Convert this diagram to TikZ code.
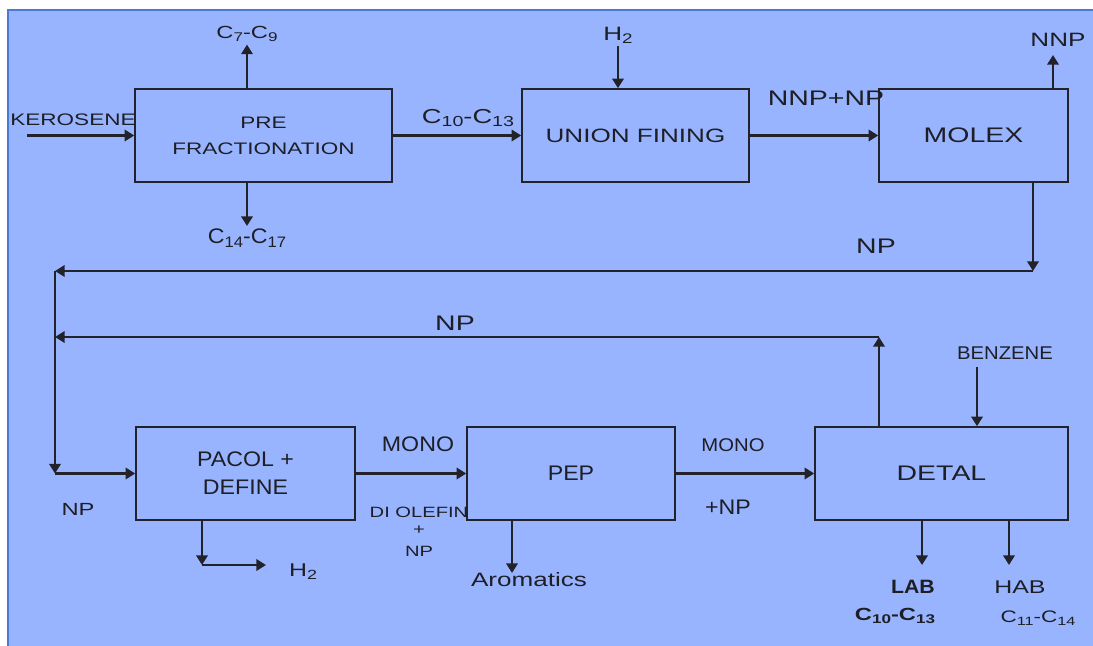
\documentclass[tikz,border=0pt]{standalone}
\usepackage{fontspec}
\setmainfont[FakeStretch=1.1]{Liberation Sans}
\newfontfamily\widefont[FakeStretch=1.35]{Liberation Sans}
\usepackage{graphicx}
\usepackage{tikz}
\usetikzlibrary{arrows.meta,calc}
\definecolor{panelfill}{RGB}{153,180,255}
\definecolor{paneledge}{RGB}{74,122,214}
\definecolor{inkc}{RGB}{30,30,38}
\definecolor{linec}{RGB}{34,34,42}
\newcommand{\sbs}[1]{\raisebox{-0.3ex}{\scalebox{0.72}{#1}}}
\newcommand{\fsz}[2]{\fontsize{#1}{#2}\selectfont}

\begin{document}
\begin{tikzpicture}[
  x=0.02cm, y=-0.02cm,
  unit/.style={draw=linec, line width=0.9pt, inner sep=0pt, align=center, text=inkc, minimum height=1.86cm},
  lbl/.style={inner sep=1.5pt, align=center, text=inkc},
  wlbl/.style={lbl, font=\widefont},
  flow/.style={draw=linec, line width=1.3pt, -{Triangle[length=5.5pt,width=6.5pt]}},
]
\useasboundingbox (0,0) rectangle (1093,646);

% ---- panel ----
\fill[white] (0,0) rectangle (1093,646);
\fill[panelfill] (8,10) rectangle (1093,646);
\draw[paneledge, line width=0.9pt] (8,646) -- (8,10) -- (1093,10);

% ---- process units ----
\node[unit, minimum width=5.14cm, font=\widefont\fsz{9.5}{14.7}] (pre) at (263.5,135.5) {PRE\\FRACTIONATION};
\node[unit, minimum width=4.54cm, font=\widefont\fsz{11}{13}] (union) at (635.5,135.5) {UNION FINING};
\node[unit, minimum width=3.78cm, font=\widefont\fsz{12}{14}] (molex) at (973.5,135.5) {MOLEX};
\node[unit, minimum width=4.38cm, font=\fsz{12}{15.9}] (pacol) at (245.5,473.5) {PACOL +\\DEFINE};
\node[unit, minimum width=4.16cm, font=\fsz{12}{14}] (pep) at (571,473.5) {PEP};
\node[unit, minimum width=5.06cm, font=\widefont\fsz{12}{14}] (detal) at (941.5,473.5) {DETAL};

% ---- stream labels ----
\node[wlbl, font=\widefont\fsz{9.5}{11}] (kero) at (73,120) {KEROSENE};
\node[wlbl, font=\widefont\fsz{10}{12}] (c79) at (247,34) {C\sbs{7}-C\sbs{9}};
\node[lbl, font=\fsz{12}{14}] (c1417) at (247,238) {C\sbs{14}-C\sbs{17}};
\node[wlbl, font=\widefont\fsz{11.5}{13}] (c1013) at (468,118) {C\sbs{10}-C\sbs{13}};
\node[wlbl, font=\widefont\fsz{11}{13}] (h2in) at (618,35) {H\sbs{2}};
\node[wlbl, font=\widefont\fsz{12}{14}] (nnpnp) at (826,98) {NNP+NP};
\node[wlbl, font=\widefont\fsz{11}{13}] (nnp) at (1058,40) {NNP};
\node[wlbl, font=\widefont\fsz{12}{14}] (npa) at (876,246) {NP};
\node[wlbl, font=\widefont\fsz{12}{14}] (npb) at (455,323) {NP};
\node[wlbl, font=\widefont\fsz{10}{12}] (npc) at (78,509) {NP};
\node[lbl, font=\fsz{12}{14}] (monoa) at (418,444) {MONO};
\node[wlbl, font=\widefont\fsz{8.5}{9.6}] (diol) at (419,532) {DI OLEFIN\\+\\[3pt]NP};
\node[wlbl, font=\widefont\fsz{10.5}{12}] (h2out) at (303,572) {H\sbs{2}};
\node[wlbl, font=\widefont\fsz{11}{13}] (arom) at (529,580) {Aromatics};
\node[lbl, font=\fsz{10.5}{12}] (monob) at (733,445) {MONO};
\node[lbl, font=\fsz{12}{14}] (plusnp) at (728,507) {+NP};
\node[lbl, font=\fsz{10.5}{12}] (benz) at (1005,353) {BENZENE};
\node[lbl, font=\bfseries\fsz{11}{13}] (lab) at (913,587) {LAB};
\node[wlbl, font=\widefont\bfseries\fsz{10}{12}] (labc) at (895,616) {C\sbs{10}-C\sbs{13}};
\node[wlbl, font=\widefont\fsz{10.5}{12}] (hab) at (1020,587) {HAB};
\node[wlbl, font=\widefont\fsz{9.5}{11}] (habc) at (1038,618) {C\sbs{11}-C\sbs{14}};

% ---- free ends and bends ----
\coordinate (keroin) at (27,135.5);
\coordinate (nnpout) at (1053,55);
\coordinate (mdrop) at (1033,271);
\coordinate (npleft) at (55,271);
\coordinate (recyc) at (879,337);
\coordinate (npleftb) at (55,337);
\coordinate (feed) at (55,473.5);
\coordinate (h2bend) at (202,565);
\coordinate (h2end) at (266,565);
\coordinate (arombot) at (512,573);
\coordinate (benzin) at (977,367);
\coordinate (labin) at (922,565);
\coordinate (habin) at (1009,565);

% ---- top row ----
\draw[flow] (keroin) -- (pre.west);
\draw[flow] (pre.east) -- (union.west);
\draw[flow] (union.east) -- (molex.west);
\draw[flow] (c79.south |- pre.north) -- (c79.south);
\draw[flow] (c1417.north |- pre.south) -- (c1417.north);
\draw[flow] (h2in.south) -- (h2in.south |- union.north);
\draw[flow] (molex.north -| nnpout) -- (nnpout);

% ---- NP returns ----
\draw[flow] (molex.south -| mdrop) -- (mdrop);
\draw[flow] (mdrop) -- (npleft);
\draw[flow] (npleft) -- (feed);
\draw[flow] (feed) -- (pacol.west);
\draw[flow] (detal.north -| recyc) -- (recyc);
\draw[flow] (recyc) -- (npleftb);

% ---- bottom row ----
\draw[flow] (pacol.east) -- (pep.west);
\draw[flow] (pep.east) -- (detal.west);
\draw[flow] (pacol.south -| h2bend) -- (h2bend);
\draw[flow] (h2bend) -- (h2end);
\draw[flow] (pep.south -| arombot) -- (arombot);
\draw[flow] (benzin) -- (benzin |- detal.north);
\draw[flow] (detal.south -| labin) -- (labin);
\draw[flow] (detal.south -| habin) -- (habin);

\end{tikzpicture}
\end{document}
